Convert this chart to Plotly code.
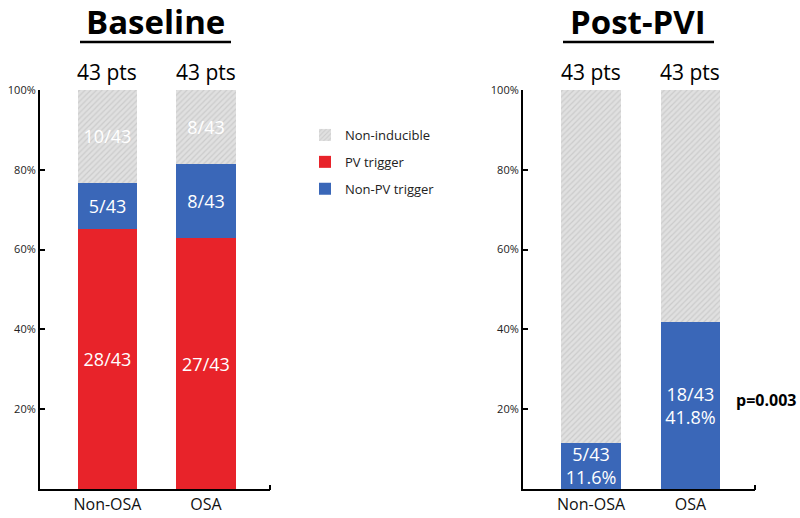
import plotly.graph_objects as go

groups = ["Non-OSA", "OSA"]
n_pts = [43, 43]

# Baseline counts
base_pv = [28, 27]
base_nonpv = [5, 8]
base_noninducible = [10, 8]

# Post-PVI counts
post_nonpv = [5, 18]
post_noninducible = [38, 25]
post_pct_labels = ["11.6%", "41.8%"]

y_ticks = [20, 40, 60, 80, 100]
y_ticklabels = ["20%", "40%", "60%", "80%", "100%"]
p_value_text = "p=0.003"

RED = "#E8232A"
BLUE = "#3A67B8"
HATCH_BG = "#e0e0e0"
HATCH_FG = "#b5b5b5"
FONT = "Open Sans"

def pct(counts):
    return [100.0 * c / n for c, n in zip(counts, n_pts)]

fig = go.Figure()

bar_w = 0.6
hatch = dict(shape="/", fgcolor=HATCH_FG, bgcolor=HATCH_BG, size=4, solidity=0.3)
txt_font = dict(family=FONT, size=18, color="white")

# Baseline
fig.add_trace(go.Bar(x=groups, y=pct(base_pv), name="PV trigger", marker=dict(color=RED, line=dict(width=0)),
                     width=bar_w, text=[f"{c}/{n}" for c, n in zip(base_pv, n_pts)],
                     textposition="inside", insidetextanchor="middle", constraintext="none",
                     textfont=txt_font, xaxis="x", yaxis="y", legendrank=2, legendgroup="b",
                     hoverinfo="skip"))
fig.add_trace(go.Bar(x=groups, y=pct(base_nonpv), name="Non-PV trigger", marker=dict(color=BLUE, line=dict(width=0)),
                     width=bar_w, text=[f"{c}/{n}" for c, n in zip(base_nonpv, n_pts)],
                     textposition="inside", insidetextanchor="middle", constraintext="none",
                     textfont=txt_font, xaxis="x", yaxis="y", legendrank=3, legendgroup="c",
                     hoverinfo="skip"))
fig.add_trace(go.Bar(x=groups, y=pct(base_noninducible), name="Non-inducible",
                     marker=dict(color=HATCH_BG, pattern=hatch, line=dict(width=0)),
                     width=bar_w, text=[f"{c}/{n}" for c, n in zip(base_noninducible, n_pts)],
                     textposition="inside", insidetextanchor="middle", constraintext="none",
                     textfont=txt_font, xaxis="x", yaxis="y", legendrank=1, legendgroup="a",
                     hoverinfo="skip"))

# Post-PVI
fig.add_trace(go.Bar(x=groups, y=pct(post_nonpv), showlegend=False, marker=dict(color=BLUE, line=dict(width=0)),
                     width=bar_w,
                     text=[f"{c}/{n}<br>{p}" for c, n, p in zip(post_nonpv, n_pts, post_pct_labels)],
                     textposition="inside", insidetextanchor="middle", constraintext="none",
                     textfont=txt_font, xaxis="x2", yaxis="y2", hoverinfo="skip"))
fig.add_trace(go.Bar(x=groups, y=pct(post_noninducible), showlegend=False,
                     marker=dict(color=HATCH_BG, pattern=hatch, line=dict(width=0)),
                     width=bar_w, xaxis="x2", yaxis="y2", hoverinfo="skip"))

ydom = [29 / 518, 428 / 518]
axis_common_y = dict(range=[0, 100], tickvals=y_ticks, ticktext=y_ticklabels, ticks="inside",
                     ticklen=5, tickwidth=2, tickcolor="black", showline=True, linecolor="black",
                     linewidth=2, showgrid=False, zeroline=False, automargin=False,
                     tickfont=dict(family=FONT, size=11, color="#222"), domain=ydom, fixedrange=True)
axis_common_x = dict(range=[-0.685, 1.65], showline=True, linecolor="black", linewidth=2,
                     ticks="", showgrid=False, automargin=False,
                     tickfont=dict(family=FONT, size=16, color="#111"), fixedrange=True)

fig.update_layout(
    width=800, height=518,
    margin=dict(l=0, r=0, t=0, b=0),
    paper_bgcolor="white", plot_bgcolor="white",
    barmode="stack",
    xaxis=dict(domain=[40 / 800, 270 / 800], anchor="y", **axis_common_x),
    yaxis=dict(anchor="x", **axis_common_y),
    xaxis2=dict(domain=[523 / 800, 755 / 800], anchor="y2", **axis_common_x),
    yaxis2=dict(anchor="x2", **axis_common_y),
    legend=dict(x=305 / 800, y=1 - 120 / 518, xanchor="left", yanchor="top",
                font=dict(family=FONT, size=13, color="#222"), tracegroupgap=7,
                itemsizing="constant", bgcolor="rgba(0,0,0,0)", traceorder="grouped"),
    showlegend=True,
    font=dict(family=FONT),
)

annotations = []
# titles
for text, xc in [("<b>Baseline</b>", 155), ("<b>Post-PVI</b>", 638)]:
    annotations.append(dict(text=text, x=xc / 800, y=1 - 21 / 518, xref="paper", yref="paper",
                            showarrow=False, font=dict(family=FONT, size=33, color="black"),
                            xanchor="center", yanchor="middle", borderpad=0))
# "43 pts" labels
for xa in ["x", "x2"]:
    for g, n in zip(groups, n_pts):
        annotations.append(dict(text=f"{n} pts", x=g, y=1 - 72 / 518, xref=xa, yref="paper",
                                showarrow=False, font=dict(family=FONT, size=21, color="black"),
                                xanchor="center", yanchor="middle"))
# p-value
annotations.append(dict(text=f"<b>{p_value_text}</b>", x=734 / 800, y=1 - 400 / 518, xref="paper", yref="paper",
                        showarrow=False, font=dict(family=FONT, size=16, color="black"),
                        xanchor="left", yanchor="middle"))
fig.update_layout(annotations=annotations)

shapes = []
# title underlines
for x0, x1 in [(80, 231), (563, 714)]:
    shapes.append(dict(type="line", xref="paper", yref="paper", x0=x0 / 800, x1=x1 / 800,
                       y0=1 - 42 / 518, y1=1 - 42 / 518, line=dict(color="black", width=2.5)))
# x-axis end ticks
for xr in [270, 755]:
    shapes.append(dict(type="line", xref="paper", yref="paper", x0=xr / 800, x1=xr / 800,
                       y0=1 - 490 / 518, y1=1 - 485 / 518, line=dict(color="black", width=2)))
fig.update_layout(shapes=shapes)

fig.write_html("out.html", config={"displayModeBar": False},
               post_script="document.body.style.margin='0';document.body.style.overflow='hidden';")
